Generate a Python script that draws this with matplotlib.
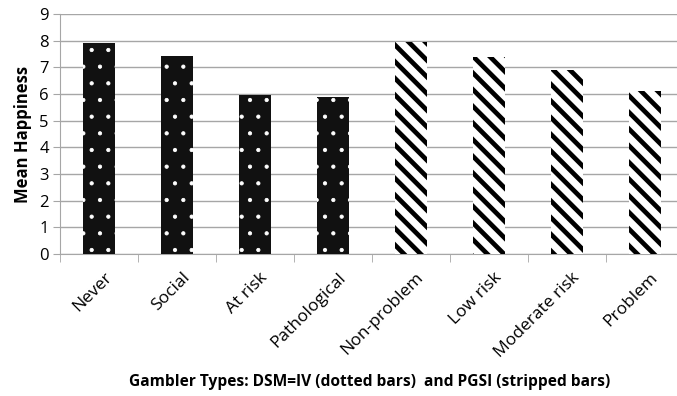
import matplotlib.pyplot as plt
import numpy as np

plt.rcParams['font.family'] = ['Open Sans', 'DejaVu Sans']

# values
dsm_types = ['Never', 'Social', 'At risk', 'Pathological']
dsm_happy = [7.92, 7.42, 5.96, 5.9]
pgsi_types = ['Non-problem', 'Low risk', 'Moderate risk', 'Problem']
pgsi_happy = [7.95, 7.4, 6.9, 6.12]
yticks = list(range(0, 10))

grey = '#a6a6a6'

fig = plt.figure(figsize=(6.77, 3.96), dpi=100)
# right edge of the plot goes a little past the figure like in the original
ax = fig.add_axes([60 / 677, 1 - 254 / 396, 624 / 677, 240 / 396])

x1 = np.arange(len(dsm_types))
x2 = np.arange(len(pgsi_types)) + len(dsm_types)
plt.rcParams['hatch.linewidth'] = 0.6
ax.bar(x1, dsm_happy, width=0.41, color='#111111', edgecolor='white',
       linewidth=0, hatch='.', zorder=3)
plt.rcParams['hatch.linewidth'] = 3.4
ax.bar(x2, pgsi_happy, width=0.41, color='white', edgecolor='black',
       linewidth=0, hatch='\\\\', zorder=3)

ax.set_xlim(-0.5, 7.5)
ax.set_ylim(0, 9)
ax.set_yticks(yticks)
ax.tick_params(axis='y', labelsize=12, length=5, color=grey, pad=3)
ax.set_xticks(np.concatenate([x1, x2]) + 0.06)
ax.set_xticklabels(dsm_types + pgsi_types, rotation=45, ha='right',
                   rotation_mode='anchor', fontsize=12.5)
ax.tick_params(axis='x', which='major', length=0, pad=11)
ax.set_xticks(np.arange(-0.5, 8.0, 1), minor=True)
ax.tick_params(axis='x', which='minor', length=6, color=grey)

ax.grid(axis='y', color=grey, linewidth=1, zorder=0)
ax.set_axisbelow(True)
for s in ['top', 'right']:
    ax.spines[s].set_visible(False)
for s in ['left', 'bottom']:
    ax.spines[s].set_color(grey)

ax.set_ylabel('Mean Happiness', fontsize=12, fontweight='bold', labelpad=5)
fig.text(370 / 677, 1 - 382 / 396,
         'Gambler Types: DSM=IV (dotted bars)  and PGSI (stripped bars)',
         ha='center', va='center', fontsize=11.2, fontweight='bold')

fig.savefig('out.png', dpi=100)
